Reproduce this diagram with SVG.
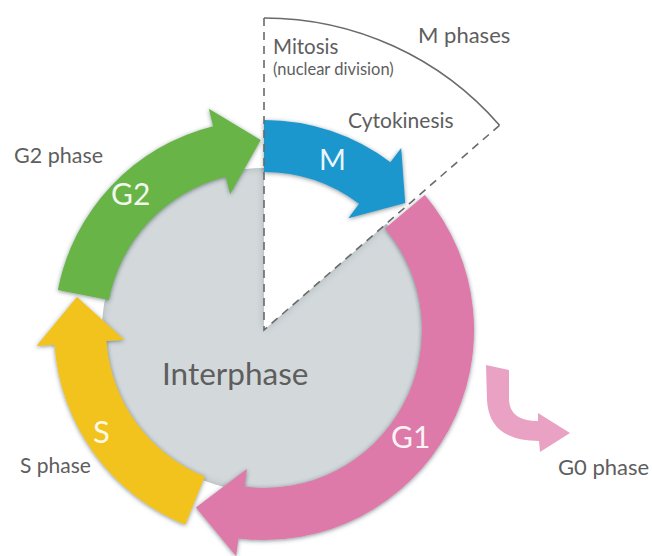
<svg xmlns="http://www.w3.org/2000/svg" width="652" height="556" viewBox="0 0 652 556">
  <defs>
    <filter id="sh" x="-20%" y="-20%" width="140%" height="140%">
      <feDropShadow dx="0" dy="1" stdDeviation="2" flood-color="#2a3a40" flood-opacity="0.55"/>
    </filter>
    <filter id="inner" x="-10%" y="-10%" width="120%" height="120%">
      <feGaussianBlur in="SourceAlpha" stdDeviation="4" result="b"/>
      <feComposite in="SourceAlpha" in2="b" operator="out" result="edge"/>
      <feFlood flood-color="#7d8a90" flood-opacity="0.6"/>
      <feComposite in2="edge" operator="in" result="shade"/>
      <feMerge><feMergeNode in="SourceGraphic"/><feMergeNode in="shade"/></feMerge>
    </filter>
  </defs>
  <style>
    .lbl { font-family: Lato, "Open Sans", "Liberation Sans", sans-serif; fill: #5e5e5e; }
    .in { font-family: Lato, "Open Sans", "Liberation Sans", sans-serif; fill: #ffffff; fill-opacity: 0.92; }
    .arrow { filter: url(#sh); }
    .dash { fill: none; stroke: #6a6a6a; stroke-width: 1.6; stroke-dasharray: 8 6; }
    .arc { fill: none; stroke: #6a6a6a; stroke-width: 1.6; }
  </style>
  <rect width="652" height="556" fill="#ffffff"/>

  <g id="interphase">
    <path d="M264,330 L386.3,223.7 A162,162 0 1 1 264,168 Z" fill="#d3d9db" filter="url(#inner)"/>
    <text class="lbl" x="162" y="385" font-size="31.5">Interphase</text>
  </g>

  <g id="s-phase">
    <path class="arrow" d="M185.3,524.7 A210,210 0 0 1 54.5,344.7 L36.5,345.9 L76.9,297 L124.3,339.8 L106.4,341 A158,158 0 0 0 204.8,476.5 Z" fill="#f2c31a"/>
    <text class="in" x="93" y="443" font-size="31">S</text>
    <text class="lbl" x="20" y="473" font-size="21">S phase</text>
  </g>

  <g id="g1-phase">
    <path class="arrow" d="M424.9,195 A210,210 0 0 1 238.4,538.4 L236.2,556.3 L195.9,507.4 L246.9,469 L244.7,486.8 A158,158 0 0 0 385,228.4 Z" fill="#dd7aa9"/>
    <text class="in" x="391" y="448" font-size="30">G1</text>
  </g>

  <g id="g2-phase">
    <path class="arrow" d="M57.9,289.9 A210,210 0 0 1 213.2,126.2 L208.8,108.8 L260.7,140 L230.1,194.2 L225.8,176.7 A158,158 0 0 0 108.9,299.9 Z" fill="#67b446"/>
    <text class="in" x="111" y="205" font-size="30">G2</text>
    <text class="lbl" x="14" y="163" font-size="21.5">G2 phase</text>
  </g>

  <g id="m-phase">
    <path class="arrow" d="M264,120 A210,210 0 0 1 390.4,162.3 L401.2,147.9 L405.2,202.9 L348.3,218.2 L359.1,203.8 A158,158 0 0 0 264,172 Z" fill="#1b97cd"/>
    <text class="in" x="319" y="170" font-size="29">M</text>
  </g>

  <g id="g0-phase">
    <path d="M486,365 L509,370 L509,400 Q510,421 538,421 L538,413 L570,433 L540,452 L539,441 Q489,441 487,400 Z" fill="#e9a2c3"/>
    <text class="lbl" x="558" y="475" font-size="22">G0 phase</text>
  </g>

  <g id="m-phases-sector">
    <path class="arc" d="M264,18 A312,312 0 0 1 499.5,125.3"/>
    <text class="lbl" x="418" y="43" font-size="22">M phases</text>
    <text class="lbl" x="273" y="54" font-size="20.5">Mitosis</text>
    <text class="lbl" x="273" y="75" font-size="16.5">(nuclear division)</text>
    <text class="lbl" x="348" y="128" font-size="21">Cytokinesis</text>
  </g>

  <g id="connectors">
    <path class="dash" d="M264,18 V330 L499.5,125.3"/>
  </g>
</svg>
